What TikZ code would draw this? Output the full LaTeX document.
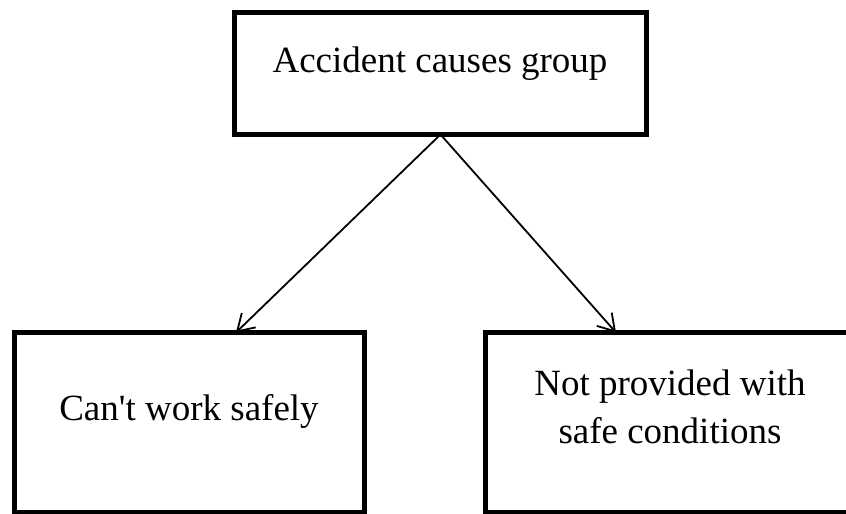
\documentclass[tikz,border=0pt]{standalone}
\usepackage{fontspec}
\setmainfont{Liberation Serif}[Ligatures=TeXOff]
\usetikzlibrary{arrows.meta}
\begin{document}
\begin{tikzpicture}[x=1pt,y=-1pt,
  box/.style={draw, line width=4.5pt, inner sep=0pt, outer sep=0pt},
  lbl/.style={font=\fontsize{37}{48}\selectfont, inner sep=0pt, anchor=base, align=center},
  conn/.style={line width=1.8pt, -{Straight Barb[length=16pt,width=20pt,line width=1.8pt]}}]
\clip (0,0) rectangle (846,514);
\fill[white] (0,0) rectangle (846,514);
% boxes
\node[box, minimum width=412pt, minimum height=122pt] (top) at (440.5,73.5) {};
\node[box, minimum width=350pt, minimum height=180pt] (lbox) at (189.5,422.5) {};
\node[box, minimum width=450pt, minimum height=180pt, anchor=north west] (rbox) at (485.5,332.5) {};
% texts
\node[lbl] (ttop) at (440,72) {Accident causes group};
\node[lbl] (tleft) at (189,420) {Can't work safely};
\node[lbl] (tright) at (670,443) {Not provided with\\safe conditions};
% connectors
\draw[conn] (top.south) -- ([xshift=221.5pt]lbox.north west);
\draw[conn] (top.south) -- ([xshift=130.5pt]rbox.north west);
\end{tikzpicture}
\end{document}
